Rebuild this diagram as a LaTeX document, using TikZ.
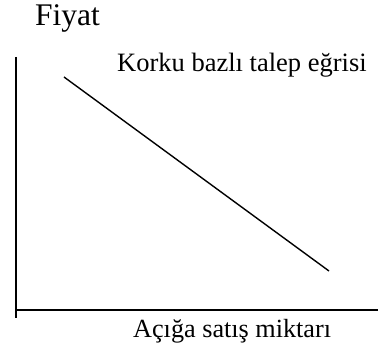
\documentclass[tikz,border=0pt]{standalone}
\usepackage{fontspec}
\setmainfont{Liberation Serif}
\begin{document}
\begin{tikzpicture}[x=1pt, y=1pt, axis/.style={line width=1.5pt}, lbl/.style={anchor=base west, inner sep=0pt}]
		\useasboundingbox (0,0) rectangle (378,354);
		\draw [axis] (16,297) coordinate (ytop) -- (16,36) coordinate (ybot);
		\draw [axis] (16,44) coordinate (xl) -- (378,44) coordinate (xr);
		\draw [line width=1.4pt] (64,277) coordinate (cstart) -- (329,83) coordinate (cend);
		\node [lbl, font=\fontsize{31.5}{36}\selectfont] (fiyat) at (35,328) {Fiyat};
		\node [lbl, font=\fontsize{26.5}{30}\selectfont] (egri) at (117,282) {Korku bazlı talep eğrisi};
		\node [lbl, font=\fontsize{26.2}{30}\selectfont] (miktar) at (133,17) {Açığa satış miktarı};
	\end{tikzpicture}
\end{document}
